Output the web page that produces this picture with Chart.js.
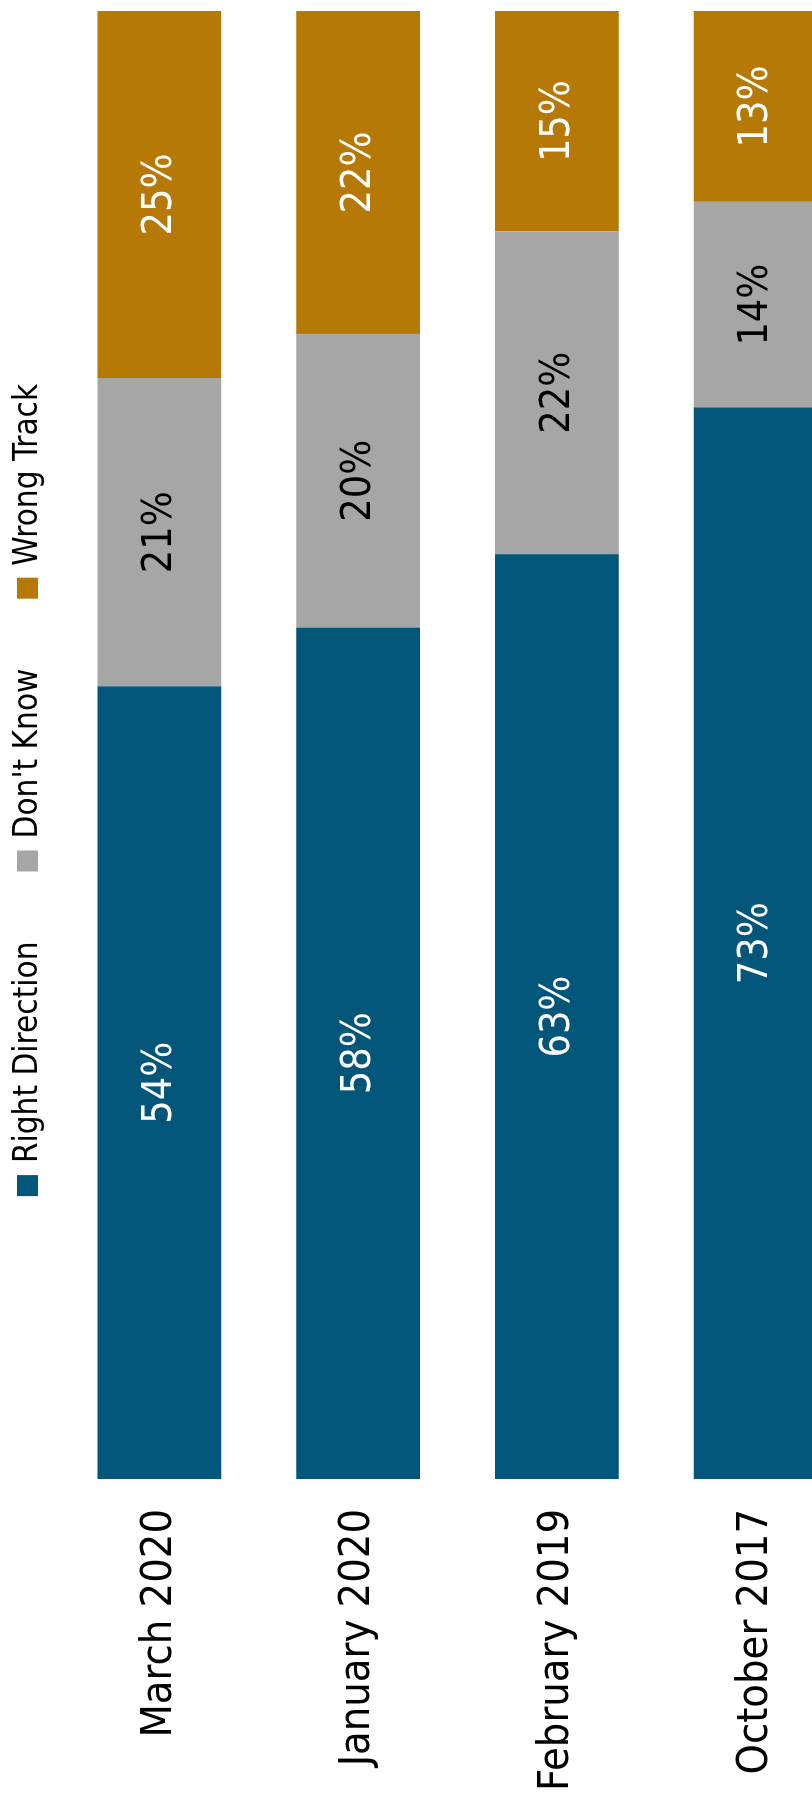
<!DOCTYPE html>
<html>
<head>
<meta charset="utf-8">
<script src="https://cdn.jsdelivr.net/npm/chart.js@4.4.1/dist/chart.umd.min.js"></script>
<style>
    html, body {
        margin: 0;
        padding: 0;
        width: 812px;
        height: 1805px;
        overflow: hidden;
        background: #ffffff;
    }
    /* the chart is drawn as a horizontal bar chart and turned a quarter turn */
    #wrap {
        position: absolute;
        left: 0;
        top: 1805px;
        width: 1805px;
        height: 860px;
        transform-origin: 0 0;
        transform: rotate(-90deg);
    }
</style>
</head>
<body>
<div id="wrap">
    <canvas id="chart"></canvas>
</div>
<script>
const periods = ['March 2020', 'January 2020', 'February 2019', 'October 2017'];
const rightDirection = [54, 58, 63, 73];
const dontKnow = [21, 20, 22, 14];
const wrongTrack = [25, 22, 15, 13];

const seriesNames = ['Right Direction', "Don't Know", 'Wrong Track'];
const seriesColors = ['#02567a', '#a6a6a6', '#b77906'];
const valueColors = ['#ffffff', '#000000', '#ffffff'];

const fontFamily = '"DejaVu Sans Condensed", "DejaVu Sans", sans-serif';

// values written in the middle of each segment
const barLabels = {
    id: 'barLabels',
    afterDatasetsDraw(chart) {
        const ctx = chart.ctx;
        ctx.save();
        ctx.font = '41px ' + fontFamily;
        ctx.textAlign = 'center';
        ctx.textBaseline = 'middle';
        chart.data.datasets.forEach((ds, i) => {
            const meta = chart.getDatasetMeta(i);
            meta.data.forEach((bar, j) => {
                const p = bar.getProps(['x', 'y', 'base'], true);
                ctx.fillStyle = valueColors[i];
                ctx.fillText(ds.data[j] + '%', (p.x + p.base) / 2, p.y + 1);
            });
        });
        ctx.restore();
    }
};

// legend row, items spaced wider than the built in one allows
const legendRow = {
    id: 'legendRow',
    afterDraw(chart) {
        const ctx = chart.ctx;
        ctx.save();
        ctx.font = '33px ' + fontFamily;
        ctx.textBaseline = 'middle';
        ctx.textAlign = 'left';
        const box = 21;
        const gap = 12;
        const spacing = 70;
        let total = 0;
        seriesNames.forEach((name, i) => {
            total += box + gap + ctx.measureText(name).width;
            if (i < seriesNames.length - 1) total += spacing;
        });
        let x = 1015 - total / 2;
        const cy = 27.5;
        seriesNames.forEach((name, i) => {
            ctx.fillStyle = seriesColors[i];
            ctx.fillRect(x, cy - box / 2, box, box);
            ctx.fillStyle = '#000000';
            ctx.fillText(name, x + box + gap, cy + 1);
            x += box + gap + ctx.measureText(name).width + spacing;
        });
        ctx.restore();
    }
};

const seriesData = [rightDirection, dontKnow, wrongTrack];

const data = {
    labels: periods,
    datasets: seriesNames.map((name, i) => ({
        label: name,
        data: seriesData[i],
        backgroundColor: seriesColors[i],
        borderWidth: 0,
        barPercentage: 1,
        categoryPercentage: 0.623,
    }))
};

const ctx = document.querySelector('#chart').getContext('2d');
new Chart(ctx, {
    type: 'bar',
    data: data,
    options: {
        indexAxis: 'y',
        responsive: true,
        maintainAspectRatio: false,
        animation: false,
        devicePixelRatio: 1,
        layout: {
            padding: { top: 60, right: 11, bottom: 5, left: 0 }
        },
        plugins: {
            legend: { display: false },
            tooltip: { enabled: false }
        },
        scales: {
            x: {
                stacked: true,
                min: 0,
                max: 100,
                display: false
            },
            y: {
                stacked: true,
                grid: { display: false },
                border: { display: false },
                ticks: {
                    color: '#000000',
                    padding: 22,
                    font: { family: fontFamily, size: 43 }
                },
                afterFit(scale) {
                    scale.width = 326;
                    // the last bar runs off the edge, so no room is kept for label overhang
                    scale.paddingTop = 0;
                    scale.paddingBottom = 0;
                }
            }
        }
    },
    plugins: [barLabels, legendRow]
});
</script>
</body>
</html>
